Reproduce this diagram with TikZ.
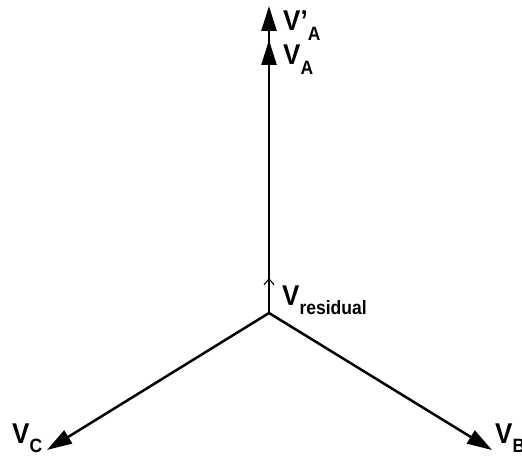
\documentclass[tikz,border=0pt]{standalone}
\usepackage{fontspec}
\setmainfont{Liberation Sans}
\usetikzlibrary{arrows.meta}
\tikzset{
  phasor/.style={line width=2.5pt,-{Triangle[length=25pt,width=15pt]}},
  resid/.style={line width=1.1pt,-{Straight Barb[length=6pt,width=10pt]}},
  lbl/.style={anchor=base west,inner sep=0pt,font=\bfseries}
}
\newcommand{\vlab}[1]{\scalebox{1}[1.1]{\fontsize{26}{26}\selectfont V}\raisebox{-9pt}{\scalebox{1}[1.1]{\fontsize{17.5}{17.5}\selectfont #1}}}
\newcommand{\vlabp}[1]{\scalebox{1}[1.1]{\fontsize{26}{26}\selectfont V’}\raisebox{-9pt}{\scalebox{1}[1.1]{\fontsize{17.5}{17.5}\selectfont #1}}}
\begin{document}
\begin{tikzpicture}[x=1pt,y=1pt]
\useasboundingbox (0,0) rectangle (522,459);
\coordinate (O) at (269,146);
\coordinate (VA) at (269,419);
\coordinate (VAp) at (269,453);
\coordinate (VR) at (269,181);
\coordinate (VC) at (47,9);
\coordinate (VB) at (492,9);
\draw[phasor] (O) -- (VAp);
\draw[phasor] (O) -- (VA);
\draw[phasor] (O) -- (VC);
\draw[phasor] (O) -- (VB);
\draw[resid] (O) -- (VR);
\node[lbl] (lVAp) at (283,428) {\vlabp{A}};
\node[lbl] (lVA) at (283,394) {\vlab{A}};
\node[lbl] (lVR) at (282,154) {\vlab{residual}};
\node[lbl] (lVC) at (12,16) {\vlab{C}};
\node[lbl] (lVB) at (495,16) {\vlab{B}};
\end{tikzpicture}
\end{document}
